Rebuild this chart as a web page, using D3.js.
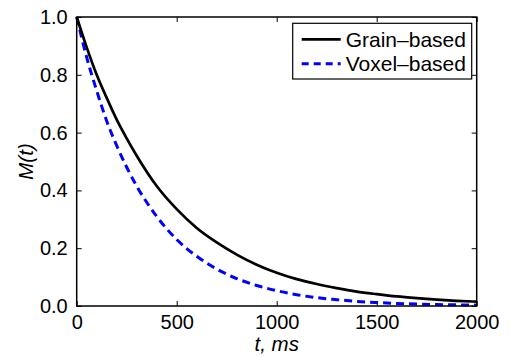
<!DOCTYPE html>
<html>
<head>
<meta charset="utf-8">
<script src="https://cdn.jsdelivr.net/npm/d3@7"></script>
<style>
    body { margin: 0; background: #fff; }
    text { font-family: "Liberation Sans", Arial, sans-serif; fill: #000; }
</style>
</head>
<body>
<div id="chart"></div>
<script>
'use strict';

// time axis (ms) and the two magnetisation curves
var times = [0, 50, 100, 150, 200, 250, 300, 400, 500, 600, 700, 800, 900, 1000,
    1100, 1200, 1300, 1400, 1500, 1600, 1700, 1800, 1900, 2000];
var grainBased = [1.0, 0.895, 0.80, 0.72, 0.645, 0.58, 0.52, 0.415, 0.335, 0.27, 0.22, 0.178, 0.143, 0.115,
    0.093, 0.076, 0.062, 0.050, 0.041, 0.033, 0.027, 0.022, 0.018, 0.015];
var voxelBased = [1.0, 0.86, 0.745, 0.64, 0.555, 0.48, 0.415, 0.31, 0.23, 0.172, 0.128, 0.095, 0.071, 0.053,
    0.039, 0.029, 0.022, 0.016, 0.012, 0.009, 0.007, 0.005, 0.004, 0.003];
var seriesNames = ["Grain\u2013based", "Voxel\u2013based"];
var xTicks = [0, 500, 1000, 1500, 2000];
var yTicks = [0, 0.2, 0.4, 0.6, 0.8, 1.0];

// layout
var W = 510, H = 357,
    margin = {top: 17, right: 33.3, bottom: 51, left: 76.7},
    width = W - margin.left - margin.right,
    height = H - margin.top - margin.bottom,
    tickLen = 5;

var svg = d3.select("#chart").append("svg")
    .attr("width", W)
    .attr("height", H);

var g = svg.append("g")
    .attr("transform", "translate(" + margin.left + "," + margin.top + ")");

var x = d3.scaleLinear().domain([0, 2000]).range([0, width]);
var y = d3.scaleLinear().domain([0, 1]).range([height, 0]);

// axes: MATLAB style, ticks pointing inward on all four sides
function styleAxis(sel) {
    sel.select(".domain").remove();
    sel.selectAll(".tick line").attr("stroke", "#000").attr("stroke-width", 1);
    sel.selectAll(".tick text").style("font-size", "20px");
}

g.append("g")
    .attr("transform", "translate(0," + height + ")")
    .call(d3.axisBottom(x).tickValues(xTicks).tickSizeInner(-tickLen).tickSizeOuter(0).tickPadding(9).tickFormat(d3.format("d")))
    .call(styleAxis);

g.append("g")
    .call(d3.axisTop(x).tickValues(xTicks).tickSizeInner(-tickLen).tickSizeOuter(0).tickFormat(""))
    .call(styleAxis);

g.append("g")
    .call(d3.axisLeft(y).tickValues(yTicks).tickSizeInner(-tickLen).tickSizeOuter(0).tickPadding(9).tickFormat(d3.format(".1f")))
    .call(styleAxis);

g.append("g")
    .attr("transform", "translate(" + width + ",0)")
    .call(d3.axisRight(y).tickValues(yTicks).tickSizeInner(-tickLen).tickSizeOuter(0).tickFormat(""))
    .call(styleAxis);

// curves
var line = d3.line()
    .x(function(d) { return x(d[0]); })
    .y(function(d) { return y(d[1]); })
    .curve(d3.curveMonotoneX);

g.append("path")
    .datum(d3.zip(times, voxelBased))
    .attr("fill", "none")
    .attr("stroke", "#0000ff")
    .attr("stroke-width", 3)
    .attr("stroke-dasharray", "8,5")
    .attr("d", line);

g.append("path")
    .datum(d3.zip(times, grainBased))
    .attr("fill", "none")
    .attr("stroke", "#000")
    .attr("stroke-width", 2.7)
    .attr("d", line);

// box
g.append("rect")
    .attr("width", width)
    .attr("height", height)
    .attr("fill", "none")
    .attr("stroke", "#000")
    .attr("stroke-width", 1.5);

// axis labels
svg.append("text")
    .attr("x", margin.left + width / 2)
    .attr("y", 351)
    .style("text-anchor", "middle")
    .style("font-size", "20.5px")
    .style("font-style", "italic")
    .text("t, ms");

svg.append("text")
    .attr("transform", "translate(33," + (margin.top + height / 2) + ") rotate(-90)")
    .style("text-anchor", "middle")
    .style("font-size", "20.5px")
    .style("font-style", "italic")
    .text("M(t)");

// legend
var legend = svg.append("g").attr("transform", "translate(292.7,23.3)");
legend.append("rect")
    .attr("width", 179)
    .attr("height", 55.7)
    .attr("fill", "#fff")
    .attr("stroke", "#000")
    .attr("stroke-width", 1.2);

var legendStyles = [
    {stroke: "#000", width: 2.7, dash: null},
    {stroke: "#0000ff", width: 3, dash: "7,5"}
];

seriesNames.forEach(function(name, i) {
    var row = legend.append("g").attr("transform", "translate(0," + (16 + i * 24.5) + ")");
    row.append("line")
        .attr("x1", 9).attr("x2", 48)
        .attr("stroke", legendStyles[i].stroke)
        .attr("stroke-width", legendStyles[i].width)
        .attr("stroke-dasharray", legendStyles[i].dash);
    row.append("text")
        .attr("x", 53)
        .attr("dy", "0.35em")
        .style("font-size", "21px")
        .text(name);
});
</script>
</body>
</html>
